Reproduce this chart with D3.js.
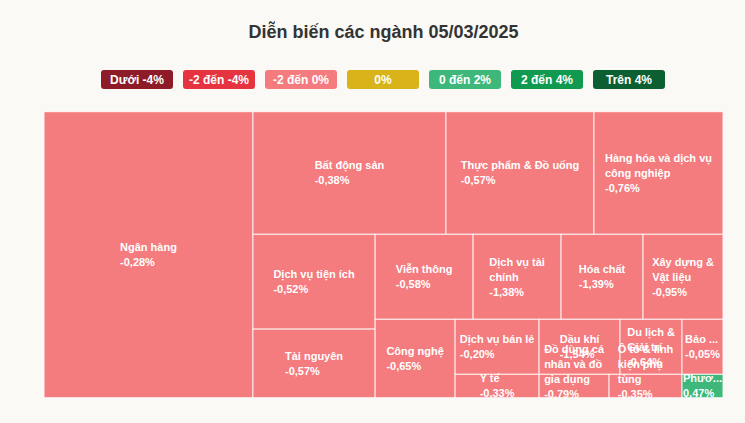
<!DOCTYPE html>
<html><head><meta charset="utf-8">
<script src="https://cdn.jsdelivr.net/npm/d3@7"></script>
<style>
html,body{margin:0;padding:0;background:#faf9f6;}
svg{display:block;font-family:"Liberation Sans",Arial,sans-serif;}
</style>
</head><body>
<svg id="chart" width="745" height="423"></svg>
<script>
// ---------- data ----------
const title = "Diễn biến các ngành 05/03/2025";
const sectors = [
  "Ngân hàng","Bất động sản","Thực phẩm & Đồ uống","Hàng hóa và dịch vụ công nghiệp",
  "Dịch vụ tiện ích","Tài nguyên","Viễn thông","Dịch vụ tài chính","Hóa chất",
  "Xây dựng & Vật liệu","Công nghệ","Dịch vụ bán lẻ","Dầu khí","Du lịch & Giải trí",
  "Bảo hiểm","Y tế","Đồ dùng cá nhân và đồ gia dụng","Ô tô & linh kiện phụ tùng",
  "Phương tiện truyền thông"
];
const weights = [59774,23662,18145,15815,11590,8381,8330,7480,6970,6800,6272,4620,4455,3410,2255,1966,1638,1708,959];
const changes = [-0.28,-0.38,-0.57,-0.76,-0.52,-0.57,-0.58,-1.38,-1.39,-0.95,-0.65,-0.20,-1.54,-0.64,-0.05,-0.33,-0.79,-0.35,0.47];
const legendLabels = ["Dưới -4%","-2 đến -4%","-2 đến 0%","0%","0 đến 2%","2 đến 4%","Trên 4%"];
const legendColors = ["#8e1c28","#e5343f","#f47b7e","#d9b31a","#3db87a","#0f9a4f","#0c5f31"];

// ---------- layout ----------
const svg = d3.select("#chart");
const plot = {x: 44, y: 111.7, w: 679, h: 286};

svg.append("text").attr("x", plot.x + plot.w/2).attr("y", 38)
  .attr("text-anchor","middle").attr("font-size",18).attr("font-weight","bold")
  .attr("fill","#333").text(title);

// legend
const lx = d3.scaleBand().domain(legendLabels).range([101, 665]).paddingInner(10/82);
const lg = svg.append("g");
lg.selectAll("rect").data(legendLabels).join("rect")
  .attr("x", d => lx(d)).attr("y", 70).attr("width", lx.bandwidth()).attr("height", 19)
  .attr("rx", 3).attr("fill", (d,i) => legendColors[i]);
lg.selectAll("text").data(legendLabels).join("text")
  .attr("x", d => lx(d) + lx.bandwidth()/2).attr("y", 84)
  .attr("text-anchor","middle").attr("font-size",12).attr("font-weight","bold")
  .attr("fill","#fff").text(d => d);

function colorFor(c){
  if (c < -4) return legendColors[0];
  if (c < -2) return legendColors[1];
  if (c < 0) return legendColors[2];
  if (c === 0) return legendColors[3];
  if (c <= 2) return legendColors[4];
  if (c <= 4) return legendColors[5];
  return legendColors[6];
}

// Highcharts-style alternating "squarified" tiling, as a d3 tile function
function hcSquarified(parent, x0, y0, x1, y1){
  const kids = parent.children, W = x1-x0, H = y1-y0, tot = parent.value;
  const ar = (a,b) => Math.max(a/b, b/a);
  const g = {height:H, width:W, direction:0, total:0, nW:0, lW:0, nH:0, lH:0, elArr:[],
             lP:{total:0, lH:0, nH:0, lW:0, nW:0, nR:0, lR:0}};
  const pl = {x:x0, y:y0};
  const out = [];
  function add(el){
    g.lP.total = g.elArr[g.elArr.length-1];
    g.total += el;
    if (g.direction === 0){
      g.lW = g.nW; g.lP.lH = g.lP.total/g.lW; g.lP.lR = ar(g.lW, g.lP.lH);
      g.nW = g.total/g.height; g.lP.nH = g.lP.total/g.nW; g.lP.nR = ar(g.nW, g.lP.nH);
    } else {
      g.lH = g.nH; g.lP.lW = g.lP.total/g.lH; g.lP.lR = ar(g.lP.lW, g.lH);
      g.nH = g.total/g.width; g.lP.nW = g.lP.total/g.nH; g.lP.nR = ar(g.lP.nW, g.nH);
    }
    g.elArr.push(el);
  }
  function calc(last){
    let gW = g.lW, gH = g.lH, keep;
    if (last){ gW = g.nW; gH = g.nH; } else { keep = g.elArr[g.elArr.length-1]; }
    const end = g.elArr.length-1;
    g.elArr.forEach((p,i) => {
      if (last || i < end){
        let w, h;
        if (g.direction === 0){ w = gW; h = p/w; } else { h = gH; w = p/h; }
        out.push({x:pl.x, y:pl.y, w, h});
        if (g.direction === 0) pl.y += h; else pl.x += w;
      }
    });
    g.nW = 0; g.lW = 0; g.elArr = []; g.total = 0;
    if (g.direction === 0) g.width -= gW; else g.height -= gH;
    pl.y = y0 + (H - g.height);
    pl.x = x0 + (W - g.width);
    g.direction = 1 - g.direction;
    if (!last) add(keep);
  }
  kids.forEach((c,i) => {
    add(W*H*c.value/tot);
    if (g.lP.nR > g.lP.lR) calc(false);
    if (i === kids.length-1) calc(true);
  });
  out.forEach((r,i) => { kids[i].x0 = r.x; kids[i].y0 = r.y; kids[i].x1 = r.x + r.w; kids[i].y1 = r.y + r.h; });
}

const data = sectors.map((s,i) => ({name:s, value:weights[i], change:changes[i]}));
const root = d3.hierarchy({children:data}).sum(d => d.value || 0);
d3.treemap().size([plot.w, plot.h]).tile(hcSquarified)(root);

const gMap = svg.append("g").attr("transform", `translate(${plot.x},${plot.y})`);
const leaves = root.leaves();
gMap.selectAll("rect").data(leaves).join("rect")
  .attr("x", d => d.x0).attr("y", d => d.y0)
  .attr("width", d => d.x1-d.x0).attr("height", d => d.y1-d.y0)
  .attr("fill", d => colorFor(d.data.change))
  .attr("stroke", "#fff").attr("stroke-width", 1).attr("stroke-opacity", 0.85);

// labels
const meas = svg.append("text").attr("font-size",11).attr("font-weight","bold").attr("visibility","hidden");
const tw = s => { meas.text(s); return meas.node().getComputedTextLength(); };
const fmt = v => v.toFixed(2).replace(".", ",") + "%";
const LH = 15;
const labelG = svg.append("g").attr("transform", `translate(${plot.x},${plot.y})`);

leaves.forEach(d => {
  const w = d.x1-d.x0, h = d.y1-d.y0;
  let lines = [];
  if (w < 45){
    const avail = w - 0.5;
    let s = d.data.name;
    if (tw(s) > avail){
      let k = s.length;
      while (k > 0 && tw(s.slice(0,k) + "...") > avail) k--;
      let pre = s.slice(0,k);
      // avoid leaving a single dangling letter of a new word
      const sp = pre.lastIndexOf(" ");
      if (sp >= 0 && pre.length - sp - 1 === 1) pre = pre.slice(0, sp + 1);
      s = pre + "...";
    }
    lines.push(s);
  } else {
    const avail = w - 8;
    const words = d.data.name.split(" ");
    let cur = "";
    words.forEach(wd => {
      const t = cur ? cur + " " + wd : wd;
      if (cur && tw(t) > avail){ lines.push(cur); cur = wd; } else cur = t;
    });
    if (cur) lines.push(cur);
  }
  lines.push(fmt(d.data.change));
  const maxW = d3.max(lines, tw);
  const cx = (d.x0+d.x1)/2, cy = (d.y0+d.y1)/2;
  let bx = cx - maxW/2;
  let by = cy - lines.length*LH/2;
  if (by + lines.length*LH > plot.h + 3.5) by = plot.h + 3.5 - lines.length*LH;
  if (by < 0) by = 0;
  const t = labelG.append("text").attr("font-size",11).attr("font-weight","bold").attr("fill","#fff");
  lines.forEach((ln,i) => {
    t.append("tspan").attr("x", bx).attr("y", by + i*LH + 11.5).text(ln);
  });
});
meas.remove();
</script>
</body></html>
